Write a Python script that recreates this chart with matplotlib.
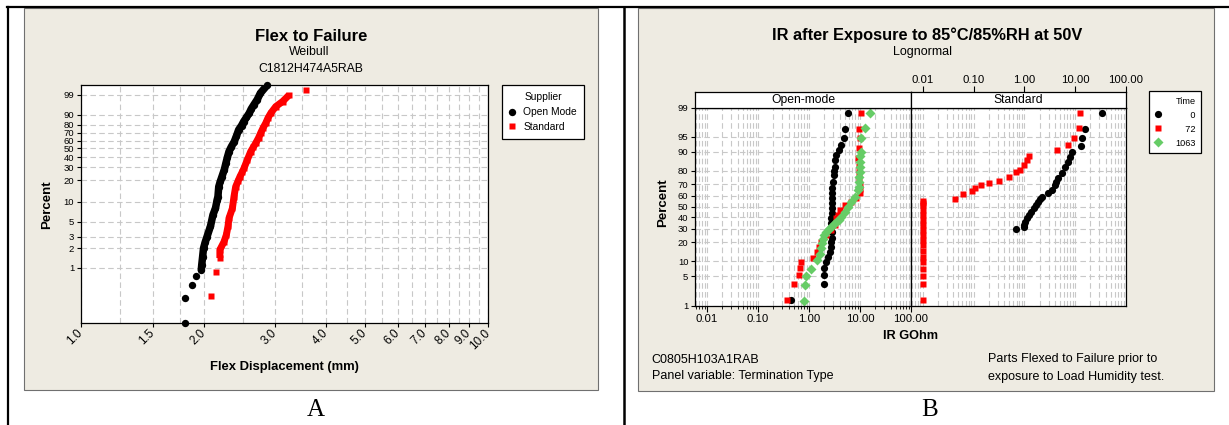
import numpy as np
import matplotlib
matplotlib.use('Agg')
import matplotlib.pyplot as plt
from matplotlib.patches import Rectangle
from matplotlib.lines import Line2D
from matplotlib.ticker import FixedLocator, FixedFormatter, NullFormatter, NullLocator, LogLocator
from statistics import NormalDist

plt.rcParams['font.family'] = ['Liberation Sans', 'DejaVu Sans']

# ---- data ----
# A: Flex to Failure (Weibull probability plot)
open_mode_mm = [1.80, 1.80, 1.877, 1.92, 1.975, 1.98, 1.99, 2.00, 2.02, 2.04, 2.08, 2.11, 2.14,
                2.16, 2.17, 2.18, 2.20, 2.22, 2.25, 2.27, 2.29, 2.31, 2.34, 2.38, 2.41, 2.44,
                2.48, 2.51, 2.55, 2.59, 2.62, 2.66, 2.71, 2.76, 2.87]
open_mode_pct = [0.144, 0.344, 0.55, 0.757, 0.94, 1.12, 1.49, 2.0, 2.5, 3.0, 4.3, 6.4, 8.0,
                 10.6, 11.8, 16.4, 19.5, 22.6, 28.0, 33.8, 40.0, 46.3, 52.0, 58.7, 66.0, 73.9,
                 79.0, 83.4, 87.5, 91.1, 94.0, 96.2, 98.0, 99.28, 99.86]
standard_mm = [2.09, 2.142, 2.194, 2.194, 2.245, 2.276, 2.297, 2.31, 2.355, 2.376, 2.399,
               2.43, 2.458, 2.49, 2.515, 2.563, 2.612, 2.65, 2.688, 2.73, 2.764, 2.80, 2.844,
               2.88, 2.926, 3.01, 3.127, 3.246, 3.579]
standard_pct = [0.376, 0.86, 1.42, 1.9, 2.5, 3.2, 4.3, 5.7, 8.0, 11.8, 16.4,
                19.5, 22.6, 26.0, 29.2, 37.2, 46.3, 51.5, 56.8, 63.5, 70.0, 76.0, 81.8,
                87.0, 91.1, 95.3, 97.4, 99.0, 99.6]

flex_ticks = [1.0, 1.5, 2.0, 3.0, 4.0, 5.0, 6.0, 7.0, 8.0, 9.0, 10.0]
flex_tick_labels = ['1.0', '1.5', '2.0', '3.0', '4.0', '5.0', '6.0', '7.0', '8.0', '9.0', '10.0']
flex_minor = [1.25, 1.75, 2.5, 3.5, 4.5, 5.5, 6.5, 7.5, 8.5, 9.5]
weibull_pct_ticks = [1, 2, 3, 5, 10, 20, 30, 40, 50, 60, 70, 80, 90, 99]

# B: IR after 85C/85%RH (lognormal probability plot), panels by termination type
om_t0_gohm = [0.438, 1.94, 1.97, 1.98, 2.19, 2.36, 2.55, 2.66, 2.75, 2.79, 2.79, 2.75, 2.75,
              2.75, 2.79, 2.79, 2.82, 2.82, 2.86, 2.86, 2.96, 3.05, 3.12, 3.19, 3.30, 3.45,
              3.87, 4.32, 4.79, 5.01, 5.91]
om_t0_pct = [1.42, 3.36, 5.47, 7.4, 9.6, 11.8, 14.3, 17.1, 20.2, 23.0, 27.5, 31.0, 35.0,
             39.0, 44.0, 48.2, 53.0, 57.6, 62.0, 66.5, 72.0, 77.1, 80.0, 82.5, 86.3, 88.7,
             90.8, 92.6, 94.6, 96.5, 98.56]
om_t72_gohm = [0.371, 0.508, 0.628, 0.657, 0.68, 1.20, 1.44, 1.60, 1.75, 2.19, 2.75, 3.19,
               3.45, 3.70, 4.00, 5.01, 6.77, 8.49, 9.86, 9.86, 9.86, 9.70, 9.60, 9.40, 9.14,
               9.40, 9.86, 9.60, 10.6]
om_t72_pct = [1.42, 3.36, 5.47, 7.4, 9.6, 11.3, 14.3, 17.0, 20.2, 25.0, 28.9, 33.0,
              38.9, 42.0, 46.6, 51.3, 54.4, 57.6, 62.1, 66.0, 69.3, 75.0, 79.3, 83.0, 87.2,
              91.5, 94.6, 96.5, 98.56]
om_t1063_gohm = [0.787, 0.85, 0.89, 1.11, 1.40, 1.62, 1.75, 1.82, 1.88, 2.00, 2.19, 2.45,
                 2.75, 3.10, 3.45, 3.90, 4.32, 5.01, 5.82, 6.77, 7.87, 9.14, 9.40, 9.60, 9.75,
                 9.86, 9.86, 9.90, 10.2, 10.3, 10.4, 12.8, 16.0]
om_t1063_pct = [1.31, 3.2, 5.1, 7.2, 10.3, 13.4, 16.2, 19.5, 22.6, 25.0, 27.5, 29.5,
                31.6, 33.8, 35.9, 38.0, 40.4, 45.0, 49.7, 54.4, 59.0, 65.0, 68.0, 72.0, 75.5,
                79.3, 82.5, 85.4, 88.0, 90.1, 94.6, 96.7, 98.56]
std_t0_gohm = [0.684, 0.964, 1.00, 1.04, 1.15, 1.25, 1.38, 1.52, 1.68, 1.85, 2.00, 2.22,
               2.91, 3.49, 3.93, 4.20, 4.49, 5.48, 6.37, 7.19, 7.98, 8.61, 12.9, 13.6, 15.7,
               34.4]
std_t0_pct = [29.5, 31.6, 33.5, 35.9, 39.0, 42.0, 45.0, 48.2, 51.3, 54.4, 57.0, 59.0,
              62.1, 65.0, 69.3, 72.0, 74.6, 78.4, 82.5, 85.4, 87.9, 90.1, 92.4, 94.6, 96.6,
              98.6]
std_t72_gohm = [0.01, 0.01, 0.01, 0.01, 0.01, 0.01, 0.01, 0.01, 0.01, 0.01, 0.01, 0.01,
                0.01, 0.01, 0.01, 0.01, 0.01, 0.01, 0.0426, 0.0611, 0.0933, 0.108, 0.142,
                0.205, 0.321, 0.505, 0.684, 0.83, 0.964, 1.12, 1.25, 4.36, 7.28, 9.55, 12.0,
                12.2]
std_t72_pct = [1.4, 3.4, 5.1, 7.2, 9.5, 12.0, 15.0, 18.0, 21.5, 25.0, 29.0, 33.0,
               37.5, 42.0, 46.5, 51.0, 53.5, 55.6, 56.6, 61.2, 64.2, 67.0, 69.3,
               70.7, 72.8, 75.4, 79.1, 80.5, 83.5, 86.3, 88.4, 90.8, 92.6, 94.6, 96.7,
               98.56]

ir_ticks = [0.01, 0.1, 1, 10, 100]
ir_tick_labels = ['0.01', '0.10', '1.00', '10.00', '100.00']
normal_pct_ticks = [1, 5, 10, 20, 30, 40, 50, 60, 70, 80, 90, 95, 99]
time_labels = ['0', '72', '1063']

# ---- probability scales ----
def weib_fwd(p):
    p = np.clip(np.asarray(p, float) / 100, 1e-12, 1 - 1e-12)
    return np.log(-np.log(1 - p))

def weib_inv(w):
    with np.errstate(over='ignore'):
        return 100 * (1 - np.exp(-np.exp(np.asarray(w, float))))

_nd = NormalDist()
_ppf = np.vectorize(_nd.inv_cdf, otypes=[float])
_cdf = np.vectorize(_nd.cdf, otypes=[float])

def norm_fwd(p):
    p = np.clip(np.asarray(p, float) / 100, 1e-9, 1 - 1e-9)
    return _ppf(p)

def norm_inv(z):
    return 100 * _cdf(np.asarray(z, float))

# ---- layout helpers (pixel coordinates, origin top-left) ----
W, H = 1229, 425

def box(x0, y0, x1, y1):
    return [x0 / W, 1 - y1 / H, (x1 - x0) / W, (y1 - y0) / H]

def fx(x):
    return x / W

def fy(y):
    return 1 - y / H

GRID = dict(color='#C8C8C8', linestyle=(0, (5, 3)), linewidth=0.8)
PANEL = '#EEEBE2'

fig = plt.figure(figsize=(W / 100, H / 100), dpi=100)
fig.patch.set_facecolor('white')

for x0, y0, x1, y1 in [(24, 8, 598, 390), (638, 8, 1214, 390.5)]:
    fig.add_artist(Rectangle((fx(x0), fy(y1)), (x1 - x0) / W, (y1 - y0) / H,
                             transform=fig.transFigure, facecolor=PANEL,
                             edgecolor='#707070', lw=0.8, zorder=-10))
fig.add_artist(Line2D([fx(7), 1], [fy(7), fy(7)], color='black', lw=1.6))
fig.add_artist(Line2D([fx(8), fx(8)], [fy(7), 0], color='black', lw=1.6))
fig.add_artist(Line2D([fx(624), fx(624)], [fy(7), 0], color='black', lw=1.8))

# ================= A =================
axA = fig.add_axes(box(81, 85, 488, 323))
axA.set_xscale('log')
axA.set_yscale('function', functions=(weib_fwd, weib_inv))
axA.set_xlim(1, 10)
axA.set_ylim(0.1431, 99.8585)

om_mm = np.array(open_mode_mm)
om_pct = np.array(open_mode_pct)
st_mm = np.array(standard_mm)
st_pct = np.array(standard_pct)
dense_om = om_pct >= 0.9
dense_st = (st_pct >= 1.4) & (st_pct <= 99.2)
axA.plot(om_mm[dense_om], om_pct[dense_om], '-', color='black', lw=5.4,
         solid_capstyle='round', zorder=2)
axA.plot(st_mm[dense_st], st_pct[dense_st], '-', color='#FF0000', lw=5.0,
         solid_capstyle='butt', zorder=2)
axA.plot(om_mm, om_pct, 'o', color='black', ms=5.3, mec='none', clip_on=False,
         zorder=3, label='Open Mode')
axA.plot(st_mm, st_pct, 's', color='#FF0000', ms=4.9, mec='none', clip_on=False,
         zorder=3, label='Standard')

axA.xaxis.set_major_locator(FixedLocator(flex_ticks))
axA.xaxis.set_major_formatter(FixedFormatter(flex_tick_labels))
axA.xaxis.set_minor_locator(FixedLocator(flex_minor))
axA.xaxis.set_minor_formatter(NullFormatter())
axA.yaxis.set_major_locator(FixedLocator(weibull_pct_ticks))
axA.yaxis.set_major_formatter(FixedFormatter([str(t) for t in weibull_pct_ticks]))
axA.yaxis.set_minor_locator(NullLocator())
axA.tick_params(axis='x', which='major', length=3, width=0.8, pad=3, labelsize=8.5)
axA.tick_params(axis='x', which='minor', length=0)
axA.tick_params(axis='y', length=3, width=0.8, pad=2, labelsize=6.8)
plt.setp(axA.get_xticklabels(), rotation=45, ha='right', va='center', rotation_mode='anchor')
axA.grid(True, which='both', axis='x', **GRID)
axA.grid(True, which='major', axis='y', **GRID)
axA.set_axisbelow(True)
for s in axA.spines.values():
    s.set_linewidth(0.9)

fig.text(fx(311), fy(36.5), 'Flex to Failure', ha='center', va='center', fontsize=12, weight='bold')
fig.text(fx(309), fy(52), 'Weibull', ha='center', va='center', fontsize=8.8)
fig.text(fx(311), fy(69), 'C1812H474A5RAB', ha='center', va='center', fontsize=8.8)
fig.text(fx(47), fy(205), 'Percent', ha='center', va='center', rotation=90,
         fontsize=9.5, weight='bold')
fig.text(fx(284), fy(367), 'Flex Displacement (mm)', ha='center', va='center',
         fontsize=9.4, weight='bold')

legA = axA.legend(title='Supplier', loc='upper left', bbox_to_anchor=(fx(501.7), fy(85.3)),
                  bbox_transform=fig.transFigure, fontsize=7.4, title_fontsize=7.4,
                  frameon=True, fancybox=False, edgecolor='black', framealpha=1,
                  borderaxespad=0, borderpad=0.7, handlelength=0.6, handletextpad=0.8,
                  labelspacing=0.45, alignment='center')
legA.get_frame().set_linewidth(0.9)

# ================= B =================
xlo = 10 ** -2.232
axL = fig.add_axes(box(695.3, 107.5, 911, 305.5))
axR = fig.add_axes(box(911, 107.5, 1126, 305.5))
stripL = fig.add_axes(box(695.3, 91.7, 911, 107.5))
stripR = fig.add_axes(box(911, 91.7, 1126, 107.5))

for ax in (axL, axR, stripR):
    ax.set_xscale('log')
    ax.set_xlim(xlo, 100)
    ax.xaxis.set_major_locator(FixedLocator(ir_ticks))
    ax.xaxis.set_major_formatter(FixedFormatter(ir_tick_labels))
    ax.xaxis.set_minor_locator(LogLocator(base=10, subs=np.arange(2, 10)))
    ax.xaxis.set_minor_formatter(NullFormatter())

for ax in (axL, axR):
    ax.set_yscale('function', functions=(norm_fwd, norm_inv))
    ax.set_ylim(1, 99)
    ax.yaxis.set_major_locator(FixedLocator(normal_pct_ticks))
    ax.yaxis.set_major_formatter(FixedFormatter([str(t) for t in normal_pct_ticks]))
    ax.yaxis.set_minor_locator(NullLocator())
    ax.grid(True, which='both', axis='x', **GRID)
    ax.grid(True, which='major', axis='y', **GRID)
    ax.set_axisbelow(True)
    for s in ax.spines.values():
        s.set_linewidth(0.9)

axL.tick_params(axis='x', which='major', length=4, width=0.8, pad=2, labelsize=8.2)
axL.tick_params(axis='x', which='minor', length=2, width=0.6)
axL.tick_params(axis='y', length=3, width=0.8, pad=2, labelsize=6.8)
axR.tick_params(axis='both', which='both', length=0, labelbottom=False, labelleft=False)

for strip, name in ((stripL, 'Open-mode'), (stripR, 'Standard')):
    strip.set_facecolor('white')
    strip.set_yticks([])
    for s in strip.spines.values():
        s.set_linewidth(0.9)
    strip.text(0.5, 0.5, name, transform=strip.transAxes, ha='center', va='center',
               fontsize=8.7)
stripL.set_xticks([])
stripR.xaxis.tick_top()
stripR.tick_params(axis='x', which='major', length=4, width=0.8, pad=1, labelsize=8.2)
stripR.tick_params(axis='x', which='minor', length=0)

mk0 = dict(marker='o', color='black', ms=5.2, mec='none', ls='none', clip_on=False)
mk72 = dict(marker='s', color='#FF0000', ms=4.8, mec='none', ls='none', clip_on=False)
mk1063 = dict(marker='D', color='#66CC66', ms=4.8, mec='none', ls='none', clip_on=False)

h0, = axL.plot(om_t0_gohm, om_t0_pct, **mk0)
h72, = axL.plot(om_t72_gohm, om_t72_pct, **mk72)
h1063, = axL.plot(om_t1063_gohm, om_t1063_pct, **mk1063)
axR.plot(std_t0_gohm, std_t0_pct, **mk0)
axR.plot(std_t72_gohm, std_t72_pct, **mk72)

fig.text(fx(926.8), fy(35.7), 'IR after Exposure to 85\u00b0C/85%RH at 50V', ha='center',
         va='center', fontsize=11.8, weight='bold')
fig.text(fx(923), fy(52.3), 'Lognormal', ha='center', va='center', fontsize=9)
fig.text(fx(662.7), fy(203), 'Percent', ha='center', va='center', rotation=90,
         fontsize=9.5, weight='bold')
fig.text(fx(910.5), fy(335.7), 'IR GOhm', ha='center', va='center', fontsize=9.2, weight='bold')
fig.text(fx(651.7), fy(360), 'C0805H103A1RAB', ha='left', va='center', fontsize=9)
fig.text(fx(651.7), fy(376), 'Panel variable: Termination Type', ha='left', va='center', fontsize=9)
fig.text(fx(988), fy(359), 'Parts Flexed to Failure prior to', ha='left', va='center', fontsize=9)
fig.text(fx(988), fy(377), 'exposure to Load Humidity test.', ha='left', va='center', fontsize=9)

pad_w = max(len(t) for t in time_labels)
legB = axL.legend([h0, h72, h1063], [t.rjust(pad_w, '\u2007') for t in time_labels],
                  title='Time', loc='upper left', bbox_to_anchor=(fx(1149.3), fy(91)),
                  bbox_transform=fig.transFigure, fontsize=6.6, title_fontsize=6.6,
                  frameon=True, fancybox=False, edgecolor='black', framealpha=1,
                  borderaxespad=0, borderpad=0.6, handlelength=0.6, handletextpad=1.6,
                  labelspacing=0.55, alignment='right')
legB.get_frame().set_linewidth(0.9)

# panel letters
fig.text(fx(316), fy(416), 'A', ha='center', va='baseline', fontsize=18, family='Liberation Serif')
fig.text(fx(930), fy(416), 'B', ha='center', va='baseline', fontsize=18, family='Liberation Serif')

fig.savefig('out.png', dpi=100, facecolor='white')
